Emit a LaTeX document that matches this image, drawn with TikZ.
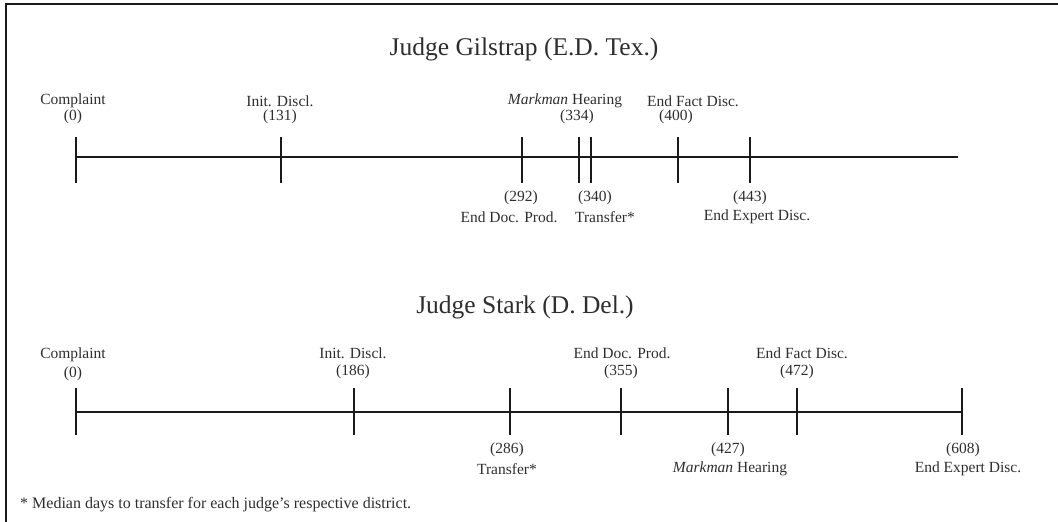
\documentclass[tikz,border=0pt]{standalone}
\usepackage{fontspec}
\setmainfont{Liberation Serif}
\definecolor{ink}{HTML}{1A1A1A}
\definecolor{txt}{HTML}{2E2E2E}
\begin{document}
\begin{tikzpicture}[x=1pt,y=-1pt,
  lab/.style={font=\fontsize{15.5}{19}\selectfont, inner sep=0pt, text=txt},
  ttl/.style={font=\fontsize{25.5}{30}\selectfont, inner sep=0pt, text=txt},
  axisline/.style={draw=ink, line width=1.8pt},
  tickline/.style={draw=ink, line width=2.2pt}]
\useasboundingbox (0,0) rectangle (1058,522);
\draw[ink, line width=2pt] (1058,4) -- (6,4) -- (6,522);

% ---------- Gilstrap ----------
\node[ttl] (t1) at (524,49) {Judge Gilstrap (E.D. Tex.)};
\coordinate (g0) at (76,157);
\coordinate (gend) at (958,157);
\draw[axisline] (g0) -- (gend);
\foreach \x/\n in {76/c,281/i,522/p,579/m,591/t,678/f,750/e}{
  \coordinate (g\n u) at (\x,137);
  \coordinate (g\n d) at (\x,183);
  \draw[tickline] (g\n u) -- (g\n d);
}
\node[lab] (g1a) at (73,101) {Complaint};
\node[lab] (g1b) at (73,117) {(0)};
\node[lab] (g2a) at (280,101) {Init. Discl.};
\node[lab] (g2b) at (280,117) {(131)};
\node[lab] (g3a) at (565,101) {\textit{Markman} Hearing};
\node[lab] (g3b) at (577,117) {(334)};
\node[lab] (g4a) at (693,101) {End Fact Disc.};
\node[lab] (g4b) at (676,117) {(400)};
\node[lab] (g5a) at (521,198) {(292)};
\node[lab] (g5b) at (509,217) {End Doc. Prod.};
\node[lab] (g6a) at (595,198) {(340)};
\node[lab] (g6b) at (605,217) {Transfer*};
\node[lab] (g7a) at (750,198) {(443)};
\node[lab] (g7b) at (757,217) {End Expert Disc.};

% ---------- Stark ----------
\node[ttl] (t2) at (525,307) {Judge Stark (D. Del.)};
\coordinate (s0) at (76,412);
\coordinate (send) at (962,412);
\draw[axisline] (s0) -- (send);
\foreach \x/\n in {76/c,354/i,510/t,621/p,728/m,797/f,962/e}{
  \coordinate (s\n u) at (\x,388);
  \coordinate (s\n d) at (\x,435);
  \draw[tickline] (s\n u) -- (s\n d);
}
\node[lab] (s1a) at (73,355) {Complaint};
\node[lab] (s1b) at (73,374) {(0)};
\node[lab] (s2a) at (353,353) {Init. Discl.};
\node[lab] (s2b) at (353,372) {(186)};
\node[lab] (s3a) at (622,353) {End Doc. Prod.};
\node[lab] (s3b) at (621,372) {(355)};
\node[lab] (s4a) at (802,353) {End Fact Disc.};
\node[lab] (s4b) at (797,372) {(472)};
\node[lab] (s5a) at (507,450) {(286)};
\node[lab] (s5b) at (507,469) {Transfer*};
\node[lab] (s6a) at (728,450) {(427)};
\node[lab] (s6b) at (730,469) {\textit{Markman} Hearing};
\node[lab] (s7a) at (963,450) {(608)};
\node[lab] (s7b) at (968,469) {End Expert Disc.};

\node[lab, anchor=west, font=\fontsize{16}{20}\selectfont] (fn) at (20,505) {* Median days to transfer for each judge’s respective district.};
\end{tikzpicture}
\end{document}
